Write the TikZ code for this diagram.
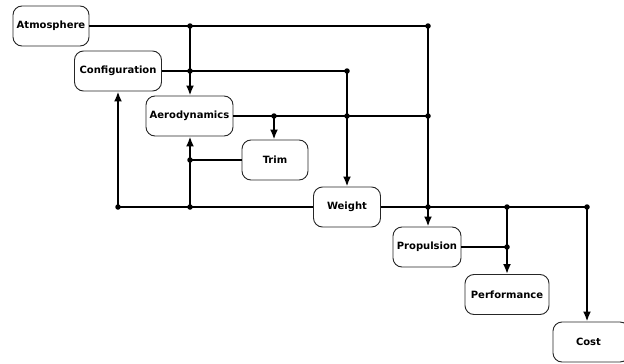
\documentclass[tikz,border=0pt]{standalone}
\usepackage{fontspec}
\setmainfont{DejaVu Sans}
\usetikzlibrary{arrows.meta}
\begin{document}
\begin{tikzpicture}[x=1pt,y=-1pt,
  block/.style={draw=black!85,line width=0.9pt,rounded corners=9pt,fill=white,
    font=\fontsize{10}{12}\selectfont\bfseries,inner sep=0pt},
  link/.style={line width=2pt,black},
  arr/.style={link,-{Latex[length=10pt,width=8pt]}},
  dotm/.style={circle,fill=black,inner sep=0pt,minimum size=5.5pt}]
\useasboundingbox (0,0) rectangle (624,364);
\node[block,minimum width=76pt,minimum height=40pt] (atm) at (51,26) {Atmosphere};
\node[block,minimum width=87pt,minimum height=40pt] (cfg) at (118,71) {Configuration};
\node[block,minimum width=87pt,minimum height=40pt] (aer) at (189.5,116) {Aerodynamics};
\node[block,minimum width=66pt,minimum height=40pt] (trm) at (275,160) {Trim};
\node[block,minimum width=67pt,minimum height=40pt] (wgt) at (347,207) {Weight};
\node[block,minimum width=68pt,minimum height=40pt] (prp) at (427,247) {Propulsion};
\node[block,minimum width=84pt,minimum height=40pt] (prf) at (507,294.5) {Performance};
\node[block,minimum width=76pt,minimum height=40pt,text width=68pt,align=left] (cst) at (591,342) {\hspace{19pt}Cost};
% junction coordinates
\coordinate (a1) at (190,26);
\coordinate (a2) at (428,26);
\coordinate (c1) at (190,71);
\coordinate (c2) at (347,71);
\coordinate (d1) at (274,116);
\coordinate (d2) at (347,116);
\coordinate (d3) at (428,116);
\coordinate (t1) at (190,160);
\coordinate (w1) at (190,207);
\coordinate (w2) at (118,207);
\coordinate (w3) at (428,207);
\coordinate (w4) at (507,207);
\coordinate (w5) at (587,207);
\coordinate (p1) at (507,247);
% lines
\draw[link] (atm.east) -- (a2);
\draw[link] (cfg.east) -- (c2);
\draw[link] (aer.east) -- (d3);
\draw[link] (trm.west) -- (t1);
\draw[link] (wgt.west) -- (w2);
\draw[link] (wgt.east) -- (w5);
\draw[link] (prp.east) -- (p1);
% arrows
\draw[arr] (a1) -- (a1 |- aer.north);
\draw[arr] (a2) -- (a2 |- prp.north);
\draw[arr] (c2) -- (c2 |- wgt.north);
\draw[arr] (d1) -- (d1 |- trm.north);
\draw[arr] (w1) -- (w1 |- aer.south);
\draw[arr] (w2) -- (w2 |- cfg.south);
\draw[arr] (w4) -- (w4 |- prf.north);
\draw[arr] (w5) -- (w5 |- cst.north);
% dots
\foreach \p in {a1,a2,c1,c2,d1,d2,d3,t1,w1,w2,w3,w4,w5,p1}
  \node[dotm] at (\p) {};
\end{tikzpicture}
\end{document}
